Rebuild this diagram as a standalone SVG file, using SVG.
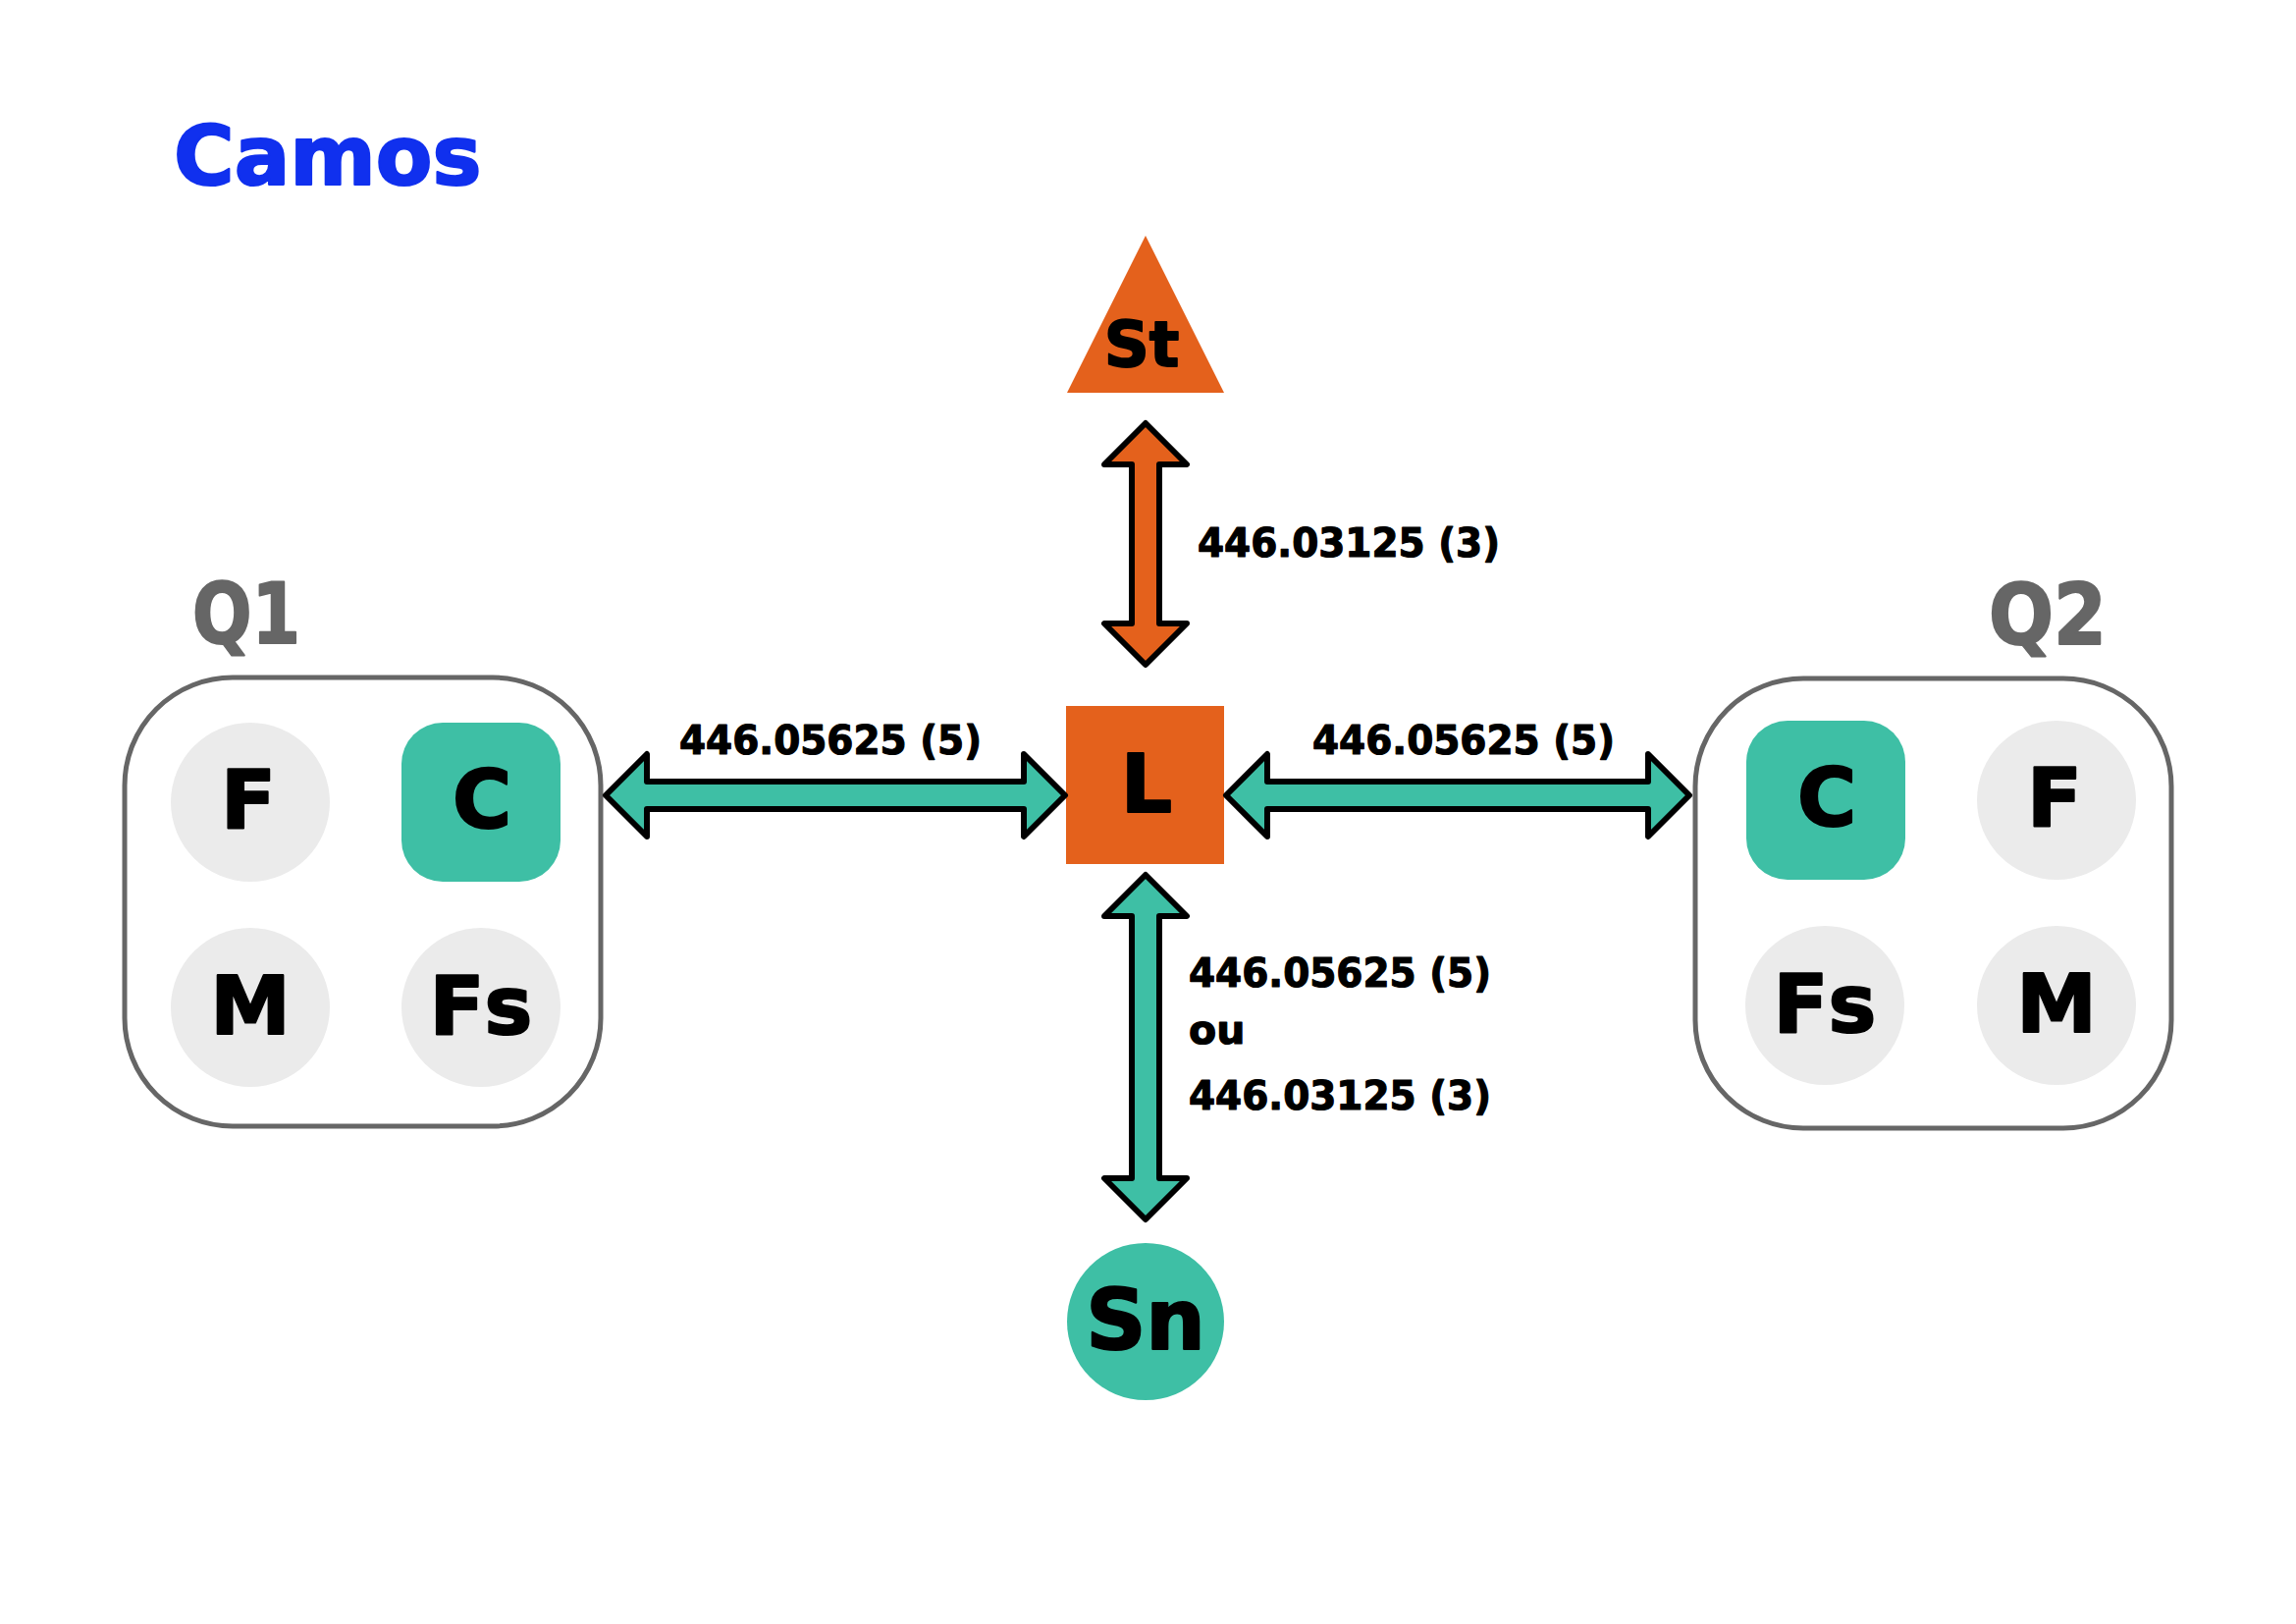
<svg xmlns="http://www.w3.org/2000/svg" width="2339" height="1654" viewBox="0 0 2339 1654">
<style>
text{font-family:"DejaVu Sans","Liberation Sans",sans-serif;font-weight:bold;stroke-linejoin:round}
.lbl{font-size:41px;fill:#000;stroke:#000;stroke-width:1.2}
.big{font-size:82px;fill:#000;text-anchor:middle;stroke:#000;stroke-width:2.2}
.q{font-size:85px;fill:#666;stroke:#666;stroke-width:2.2}
.box{fill:#fff;stroke:#666;stroke-width:5}
.gray{fill:#ebebeb}
.teal{fill:#3ebfa5}
.orange{fill:#e4611c}
.arr{stroke:#000;stroke-width:6;stroke-linejoin:round}
</style>
<rect width="2339" height="1654" fill="#fff"/>
<text id="title" x="177" y="188" style="font-size:84px;fill:#1030ee;stroke:#1030ee;stroke-width:2.2">Camos</text>

<g id="Q1">
<text x="196" y="655" class="q" textLength="110" lengthAdjust="spacingAndGlyphs">Q1</text>
<rect class="box" x="127" y="690" width="485" height="457" rx="110"/>
<g id="Q1-F"><circle class="gray" cx="255" cy="817" r="81"/><text class="big" x="253" y="843">F</text></g>
<g id="Q1-C"><rect class="teal" x="409" y="736" width="162" height="162" rx="42"/><text class="big" x="491" y="843">C</text></g>
<g id="Q1-M"><circle class="gray" cx="255" cy="1026" r="81"/><text class="big" x="255" y="1053">M</text></g>
<g id="Q1-Fs"><circle class="gray" cx="490" cy="1026" r="81"/><text class="big" x="490" y="1053">Fs</text></g>
</g>

<g id="Q2">
<text x="2026" y="656" class="q" textLength="120" lengthAdjust="spacingAndGlyphs">Q2</text>
<rect class="box" x="1727" y="691" width="485" height="458" rx="110"/>
<g id="Q2-C"><rect class="teal" x="1779" y="734" width="162" height="162" rx="42"/><text class="big" x="1861" y="841">C</text></g>
<g id="Q2-F"><circle class="gray" cx="2095" cy="815" r="81"/><text class="big" x="2093" y="841">F</text></g>
<g id="Q2-Fs"><circle class="gray" cx="1859" cy="1024" r="81"/><text class="big" x="1859" y="1051">Fs</text></g>
<g id="Q2-M"><circle class="gray" cx="2095" cy="1024" r="81"/><text class="big" x="2095" y="1051">M</text></g>
</g>

<g id="St">
<polygon class="orange" points="1167,240 1247,400 1087,400"/>
<text x="1163" y="373" style="font-size:64px;text-anchor:middle;stroke:#000;stroke-width:1.8">St</text>
</g>

<g id="L">
<rect class="orange" x="1086" y="719" width="161" height="161"/>
<text class="big" x="1168" y="827">L</text>
</g>

<g id="Sn">
<circle class="teal" cx="1167" cy="1346" r="80"/>
<text x="1167" y="1374" style="font-size:85px;text-anchor:middle;stroke:#000;stroke-width:2.2">Sn</text>
</g>

<g id="connectors">
<polygon class="arr orange" points="1167,431 1209,473 1181,473 1181,635 1209,635 1167,677 1125,635 1153,635 1153,473 1125,473"/>
<polygon class="arr teal" points="617,810 659,768 659,796 1043,796 1043,768 1085,810 1043,852 1043,824 659,824 659,852"/>
<polygon class="arr teal" points="1249,810 1291,768 1291,796 1679,796 1679,768 1721,810 1679,852 1679,824 1291,824 1291,852"/>
<polygon class="arr teal" points="1167,891 1209,933 1181,933 1181,1200 1209,1200 1167,1242 1125,1200 1153,1200 1153,933 1125,933"/>
<text class="lbl" x="1220" y="567" textLength="308" lengthAdjust="spacingAndGlyphs">446.03125 (3)</text>
<text class="lbl" x="692" y="768" textLength="308" lengthAdjust="spacingAndGlyphs">446.05625 (5)</text>
<text class="lbl" x="1337" y="768" textLength="308" lengthAdjust="spacingAndGlyphs">446.05625 (5)</text>
<text class="lbl" x="1211" y="1005" textLength="308" lengthAdjust="spacingAndGlyphs">446.05625 (5)</text>
<text class="lbl" x="1211" y="1063">ou</text>
<text class="lbl" x="1211" y="1130" textLength="308" lengthAdjust="spacingAndGlyphs">446.03125 (3)</text>
</g>
</svg>
